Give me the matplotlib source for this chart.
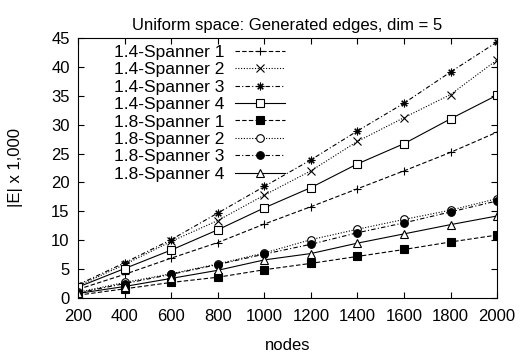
import matplotlib
matplotlib.use("Agg")
import matplotlib.pyplot as plt

plt.rcParams['font.family'] = ['Liberation Sans', 'DejaVu Sans']

nodes = [200, 400, 600, 800, 1000, 1200, 1400, 1600, 1800, 2000]

# |E| x 1,000
s14_1 = [1.5, 4.1, 6.9, 9.6, 12.8, 15.8, 18.9, 22.0, 25.2, 28.7]
s14_2 = [2.1, 5.8, 9.8, 13.4, 17.8, 22.0, 27.1, 31.2, 35.2, 41.2]
s14_3 = [2.3, 6.1, 10.1, 14.7, 19.3, 23.9, 28.9, 33.7, 39.1, 44.3]
s14_4 = [1.9, 5.1, 8.3, 11.8, 15.6, 19.1, 23.2, 26.7, 31.0, 35.1]
s18_1 = [0.5, 1.6, 2.7, 3.6, 4.9, 6.0, 7.2, 8.4, 9.7, 10.9]
s18_2 = [1.0, 2.7, 4.2, 5.9, 7.8, 10.1, 11.9, 13.6, 15.2, 17.2]
s18_3 = [0.9, 2.5, 4.1, 5.8, 7.6, 9.3, 11.3, 13.0, 14.9, 16.8]
s18_4 = [0.8, 2.0, 3.4, 4.8, 6.6, 7.7, 9.5, 11.1, 12.7, 14.2]

labels = ['1.4-Spanner 1', '1.4-Spanner 2', '1.4-Spanner 3', '1.4-Spanner 4',
          '1.8-Spanner 1', '1.8-Spanner 2', '1.8-Spanner 3', '1.8-Spanner 4']

series = [s14_1, s14_2, s14_3, s14_4, s18_1, s18_2, s18_3, s18_4]

# gnuplot-like styles: (linestyle, marker, filled)
styles = [
    ((0, (4, 2)), '+', True),
    ((0, (1, 1.5)), 'x', True),
    ((0, (4, 2, 1, 2)), (8, 2, 0), True),
    ('-', 's', False),
    ((0, (4, 2)), 's', True),
    ((0, (1, 1.5)), 'o', False),
    ((0, (4, 2, 1, 2)), 'o', True),
    ('-', '^', False),
]

fig = plt.figure(figsize=(5.2, 3.54), dpi=100)
ax = fig.add_axes([0.15, 0.158, 0.806, 0.735])

for ys, lab, (ls, mk, filled) in zip(series, labels, styles):
    ax.plot(nodes, ys, color='black', linestyle=ls, linewidth=0.8,
            marker=mk, markersize=5.5, markeredgewidth=0.8,
            markerfacecolor='black' if filled else 'white',
            markeredgecolor='black', label=lab)

ax.set_xlim(200, 2000)
ax.set_ylim(0, 45)
ax.set_xticks(nodes)
ax.set_yticks(range(0, 46, 5))
ax.tick_params(direction='in', top=True, right=True, labelsize=12, length=4)
ax.tick_params(axis='x', pad=8)
ax.tick_params(axis='y', pad=6)
for sp in ax.spines.values():
    sp.set_linewidth(0.8)

ax.set_title('Uniform space: Generated edges, dim = 5', fontsize=12, pad=6)
ax.set_xlabel('nodes', fontsize=12, labelpad=10)
ax.set_ylabel('|E| x 1,000', fontsize=12, labelpad=20)

ax.legend(loc='upper left', frameon=False, markerfirst=False, fontsize=12.5,
          handlelength=2.9, labelspacing=0.13, borderpad=0.2,
          borderaxespad=0, bbox_to_anchor=(0.078, 0.987), handletextpad=0.6)

fig.savefig('out.png', dpi=100)
